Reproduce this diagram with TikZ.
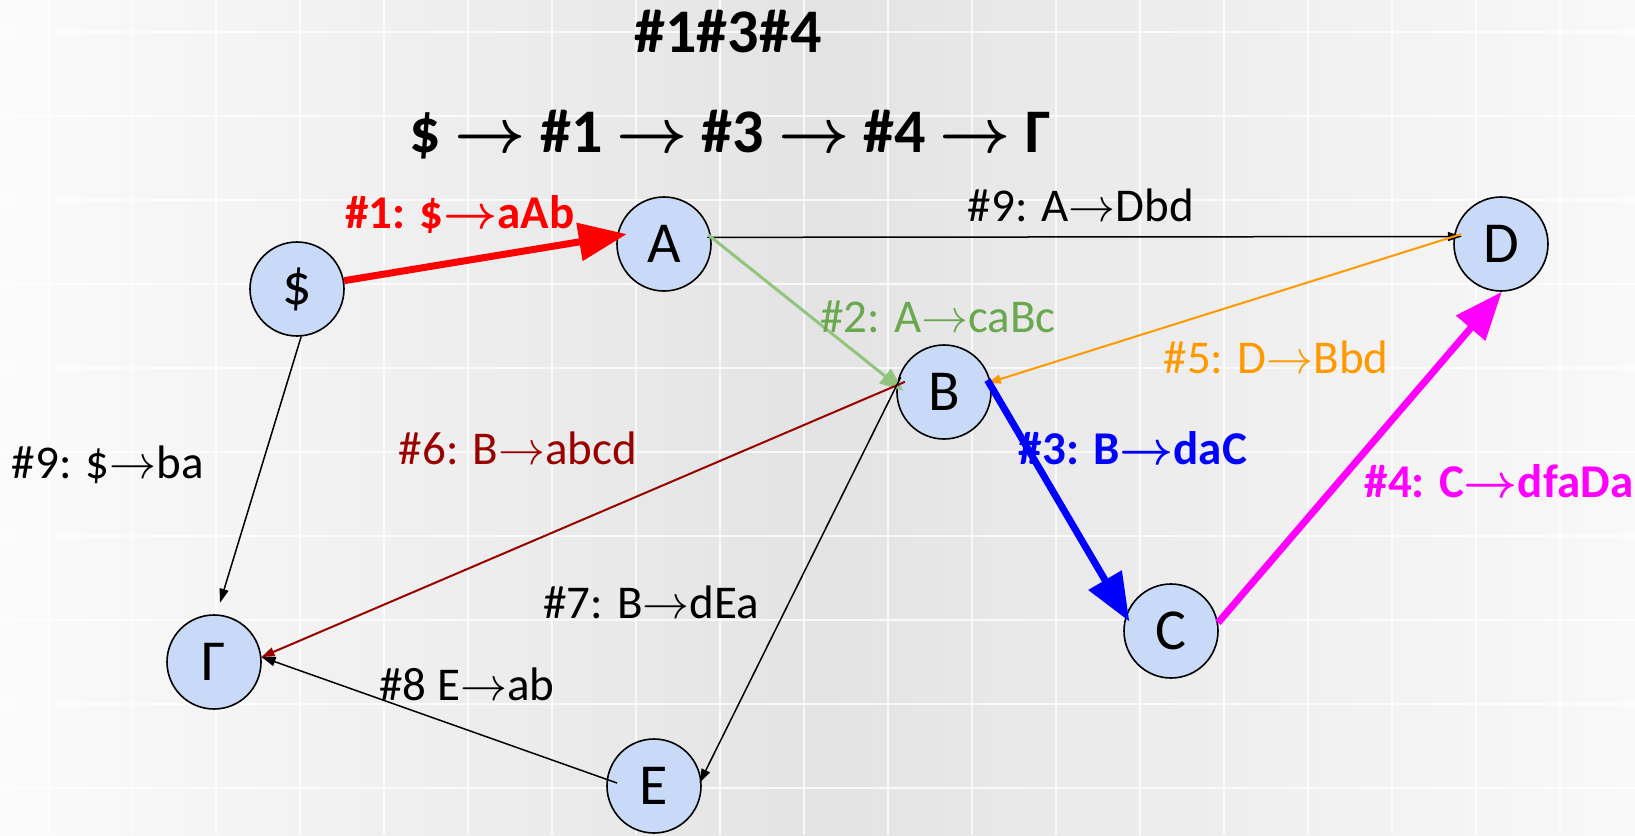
\documentclass[tikz,border=0pt]{standalone}
\usepackage{fix-cm}
\usepackage{fontspec}
\setmainfont{Carlito}
\usetikzlibrary{arrows.meta}
\definecolor{nodefill}{HTML}{C9DAF8}
\definecolor{bgL}{HTML}{FBFBFB}
\definecolor{bgM}{HTML}{E3E3E3}
\definecolor{bgR}{HTML}{F9F9F9}
\definecolor{grn}{HTML}{93C47D}
\definecolor{grntxt}{HTML}{6AA84F}
\definecolor{orng}{HTML}{FF9900}
\definecolor{dred}{HTML}{990000}
\definecolor{mag}{HTML}{FF00FF}
\definecolor{pred}{HTML}{FF0000}
\definecolor{pblue}{HTML}{0000FF}
\begin{document}
\begin{tikzpicture}[x=1pt,y=-1pt,
  st/.style={circle, draw=black, line width=1.6pt, fill=nodefill, minimum size=94pt, inner sep=0pt, font=\fontsize{58}{60}\selectfont},
  lbl/.style={anchor=base, inner sep=0pt, font=\fontsize{47}{52}\selectfont},
  blbl/.style={anchor=base, inner sep=0pt, font=\fontsize{47}{52}\selectfont\bfseries\boldmath},
  ttl/.style={anchor=base, inner sep=0pt, font=\fontsize{62}{70}\selectfont\bfseries\boldmath},
  bigarr/.style={line width=7pt, -{Triangle[length=48pt,width=37pt]}},
  medarr/.style={line width=3pt, -{Triangle[length=24pt,width=18pt]}},
  smarr/.style={line width=2pt, -{Triangle[length=13pt,width=9pt]}},
  thinarr/.style={line width=1.5pt, -{Triangle[length=14pt,width=9pt]}},
  gridl/.style={white, line width=2pt, opacity=0.75}
  ]
\useasboundingbox (0,0) rectangle (1635,835);
\shade[left color=bgL, right color=bgR, middle color=bgM] (0,0) rectangle (1635,835);
\foreach \x in {48,132,...,1635} \draw[gridl] (\x,0) -- (\x,835);
\foreach \y in {32,116,...,835} \draw[gridl] (0,\y) -- (1635,\y);

% titles
\node[ttl] (t1) at (728,52) {\#1\#3\#4};
\node[ttl] (t2) at (730,152) {\$ $\rightarrow$ \#1 $\rightarrow$ \#3 $\rightarrow$ \#4 $\rightarrow$ Γ};

% states
\node[st] (S) at (297,289) {\$};
\node[st] (A) at (664,244) {A};
\node[st] (D) at (1501,244) {D};
\node[st] (B) at (944,392) {B};
\node[st] (C) at (1171,631) {C};
\node[st] (G) at (214,662) {Γ};
\node[st] (E) at (654,786) {E};

% connectors
\draw[thinarr, black, shorten <=-4pt, shorten >=-8pt] (A.8) -- (D.171);
\draw[medarr, grn, shorten <=-4pt, shorten >=-9pt] (A.8) -- (B.172);
\draw[smarr, orng, shorten <=-8pt, shorten >=-3pt] (D.171) -- (B.12);
\draw[smarr, dred, shorten <=-9pt] (B.172) -- (G.6);
\draw[thinarr, black, shorten <=-9pt, shorten >=-4pt] (B.172) -- (E.8);
\draw[thinarr, black, shorten <=-11pt] (E.172) -- (G.6);
\draw[thinarr, black, shorten >=12pt] (S.-85) -- (G.87);
\draw[bigarr, pred, shorten >=-10pt] (S.10) -- (A.170);
\draw[bigarr, pblue, shorten <=-8pt, shorten >=-7pt] (B.6) -- (C.161);
\draw[bigarr, mag] (C.10) -- (D.-89);

% labels
\node[blbl, pred] (l1) at (460,228) {\#1: \$$\rightarrow$aAb};
\node[lbl, black] (l9a) at (1081,221) {\#9: A$\rightarrow$Dbd};
\node[lbl, grntxt] (l2) at (938,332) {\#2: A$\rightarrow$caBc};
\node[lbl, orng] (l5) at (1276,373) {\#5: D$\rightarrow$Bbd};
\node[blbl, pblue] (l3) at (1133,464) {\#3: B$\rightarrow$daC};
\node[blbl, mag] (l4) at (1499,497) {\#4: C$\rightarrow$dfaDa};
\node[lbl, dred] (l6) at (518,464) {\#6: B$\rightarrow$abcd};
\node[lbl, black] (l7) at (651,618) {\#7: B$\rightarrow$dEa};
\node[lbl, black] (l8) at (467,700) {\#8 E$\rightarrow$ab};
\node[lbl, black] (l9b) at (108,478) {\#9: \$$\rightarrow$ba};
\end{tikzpicture}
\end{document}
